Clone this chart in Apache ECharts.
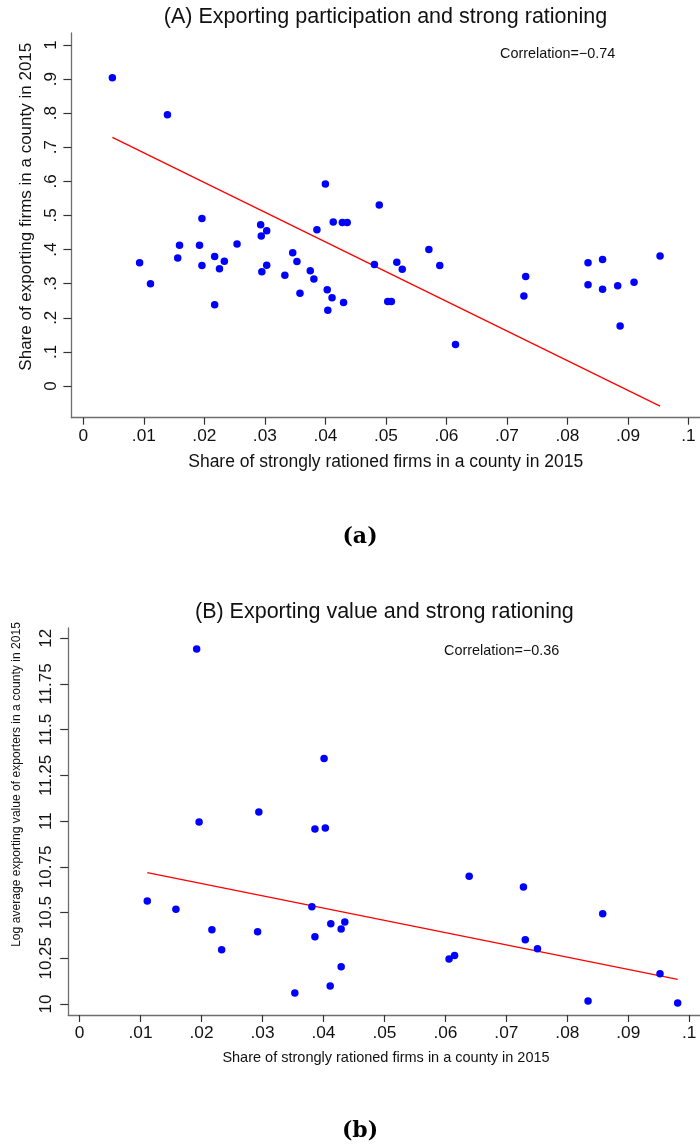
<!DOCTYPE html>
<html><head><meta charset="utf-8">
<script src="https://cdn.jsdelivr.net/npm/echarts@6/dist/echarts.min.js"></script>
<style>html,body{margin:0;padding:0;background:#fff}#c{width:700px;height:1146px}</style>
</head><body><div id="c"></div>
<script>
// ---- data ----
const xTickValues = [0,0.01,0.02,0.03,0.04,0.05,0.06,0.07,0.08,0.09,0.1];
const xTickLabels = ["0",".01",".02",".03",".04",".05",".06",".07",".08",".09",".1"];
const yTickValuesA = [0,0.1,0.2,0.3,0.4,0.5,0.6,0.7,0.8,0.9,1];
const yTickLabelsA = ["0",".1",".2",".3",".4",".5",".6",".7",".8",".9","1"];
const yTickValuesB = [10,10.25,10.5,10.75,11,11.25,11.5,11.75,12];
const yTickLabelsB = ["10","10.25","10.5","10.75","11","11.25","11.5","11.75","12"];

const shareRationedA = [0.0048,0.0139,0.0400,0.0489,0.0196,0.0293,0.0303,0.0294,0.0386,0.0413,0.0428,0.0436,0.0159,0.0192,0.0254,0.0346,0.0571,0.0093,0.0111,0.0156,0.0196,0.0217,0.0233,0.0225,0.0217,0.0295,0.0303,0.0333,0.0353,0.0375,0.0381,0.0358,0.0403,0.0411,0.0404,0.0430,0.0481,0.0518,0.0527,0.0503,0.0509,0.0589,0.0615,0.0731,0.0728,0.0834,0.0858,0.0834,0.0858,0.0883,0.0910,0.0887,0.0953];
const shareExporting = [0.904,0.795,0.592,0.531,0.491,0.473,0.455,0.440,0.458,0.481,0.479,0.479,0.413,0.413,0.416,0.391,0.400,0.361,0.300,0.375,0.353,0.380,0.366,0.344,0.238,0.335,0.354,0.325,0.365,0.338,0.314,0.272,0.282,0.259,0.222,0.245,0.356,0.363,0.342,0.248,0.248,0.353,0.122,0.321,0.264,0.361,0.371,0.297,0.284,0.294,0.304,0.176,0.381];
const fitAx = [0.0048,0.0953];
const fitAy = [0.729,-0.059];

const shareRationedB = [0.0192,0.0401,0.0294,0.0196,0.0386,0.0403,0.0639,0.0728,0.0111,0.0158,0.0381,0.0858,0.0412,0.0435,0.0429,0.0217,0.0292,0.0386,0.0731,0.0233,0.0751,0.0606,0.0615,0.0429,0.0952,0.0411,0.0353,0.0834,0.0981];
const logExportValue = [11.941,11.343,11.050,10.995,10.957,10.962,10.698,10.640,10.563,10.518,10.532,10.494,10.439,10.448,10.410,10.406,10.395,10.368,10.352,10.297,10.302,10.246,10.266,10.204,10.166,10.098,10.060,10.016,10.005];
const fitBx = [0.0111,0.0981];
const fitBy = [10.718,10.135];

// ---- chart ----
const FONT = 'Liberation Sans, Arial, Helvetica, sans-serif';
function lookup(vals, labs){
  return function(v){
    for (let i=0;i<vals.length;i++){ if (Math.abs(vals[i]-v) < 1e-7) return labs[i]; }
    return '';
  };
}
const zip = (a,b) => a.map((v,i)=>[v,b[i]]);

function xAxisCfg(gi, min, max){
  return {
    type:'value', gridIndex:gi, min:min, max:max,
    splitLine:{show:false},
    axisLine:{show:true, onZero:false, lineStyle:{color:'#6e6e6e', width:1.3}},
    axisTick:{show:true, customValues:xTickValues, length:7, lineStyle:{color:'#333', width:1.2}},
    axisLabel:{customValues:xTickValues, formatter:lookup(xTickValues,xTickLabels), fontFamily:FONT, fontSize:17.3, color:'#111', margin:10, showMinLabel:true, showMaxLabel:true}
  };
}
function yAxisCfg(gi, min, max, vals, labs, margin){
  return {
    type:'value', gridIndex:gi, min:min, max:max,
    splitLine:{show:false},
    axisLine:{show:true, onZero:false, lineStyle:{color:'#6e6e6e', width:1.3}},
    axisTick:{show:true, customValues:vals, length:8, lineStyle:{color:'#333', width:1.2}},
    axisLabel:{customValues:vals, formatter:lookup(vals,labs), rotate:90, fontFamily:FONT, fontSize:17, color:'#111', margin:margin, showMinLabel:true, showMaxLabel:true}
  };
}

const chart = echarts.init(document.getElementById('c'), null, {renderer:'canvas'});
chart.setOption({
  animation:false,
  backgroundColor:'#fff',
  grid:[
    {left:71.4, right:0, top:33, height:384.7, containLabel:false},
    {left:68.2, right:0, top:628, height:387, containLabel:false}
  ],
  xAxis:[ xAxisCfg(0, -0.00197, 0.1019), xAxisCfg(1, -0.00187, 0.10176) ],
  yAxis:[ yAxisCfg(0, -0.093, 1.035, yTickValuesA, yTickLabelsA, 12),
          yAxisCfg(1, 9.940, 12.056, yTickValuesB, yTickLabelsB, 13) ],
  series:[
    {type:'scatter', xAxisIndex:0, yAxisIndex:0, data:zip(shareRationedA, shareExporting), symbol:'circle', symbolSize:7.5, itemStyle:{color:'#0000ff', opacity:1}, z:3},
    {type:'line', xAxisIndex:0, yAxisIndex:0, data:zip(fitAx, fitAy), showSymbol:false, symbol:'none', lineStyle:{color:'#ff0000', width:1.3}, z:2},
    {type:'scatter', xAxisIndex:1, yAxisIndex:1, data:zip(shareRationedB, logExportValue), symbol:'circle', symbolSize:7.5, itemStyle:{color:'#0000ff', opacity:1}, z:3},
    {type:'line', xAxisIndex:1, yAxisIndex:1, data:zip(fitBx, fitBy), showSymbol:false, symbol:'none', lineStyle:{color:'#ff0000', width:1.3}, z:2}
  ],
  graphic:[
    {type:'text', x:385.5, y:17.5, style:{text:'(A) Exporting participation and strong rationing', font:'21.5px '+FONT, fill:'#111', textAlign:'center', textVerticalAlign:'middle'}},
    {type:'text', x:500, y:54, style:{text:'Correlation=\u22120.74', font:'14.4px '+FONT, fill:'#111', textAlign:'left', textVerticalAlign:'middle'}},
    {type:'text', x:26.5, y:206.7, rotation:Math.PI/2, style:{text:'Share of exporting firms in a county in 2015', font:'17px '+FONT, fill:'#111', textAlign:'center', textVerticalAlign:'middle'}},
    {type:'text', x:385.7, y:462, style:{text:'Share of strongly rationed firms in a county in 2015', font:'17.5px '+FONT, fill:'#111', textAlign:'center', textVerticalAlign:'middle'}},
    {type:'text', x:360, y:537.5, style:{text:'(a)', font:'bold 22px DejaVu Serif, serif', fill:'#000', textAlign:'center', textVerticalAlign:'middle'}},

    {type:'text', x:384.4, y:612.5, style:{text:'(B) Exporting value and strong rationing', font:'21.5px '+FONT, fill:'#111', textAlign:'center', textVerticalAlign:'middle'}},
    {type:'text', x:444, y:650.7, style:{text:'Correlation=\u22120.36', font:'14.4px '+FONT, fill:'#111', textAlign:'left', textVerticalAlign:'middle'}},
    {type:'text', x:16.5, y:784.5, rotation:Math.PI/2, style:{text:'Log average exporting value of exporters in a county in 2015', font:'12.1px '+FONT, fill:'#111', textAlign:'center', textVerticalAlign:'middle'}},
    {type:'text', x:386, y:1057.5, style:{text:'Share of strongly rationed firms in a county in 2015', font:'14.5px '+FONT, fill:'#111', textAlign:'center', textVerticalAlign:'middle'}},
    {type:'text', x:360, y:1131, style:{text:'(b)', font:'bold 22px DejaVu Serif, serif', fill:'#000', textAlign:'center', textVerticalAlign:'middle'}}
  ]
});
</script>
</body></html>
